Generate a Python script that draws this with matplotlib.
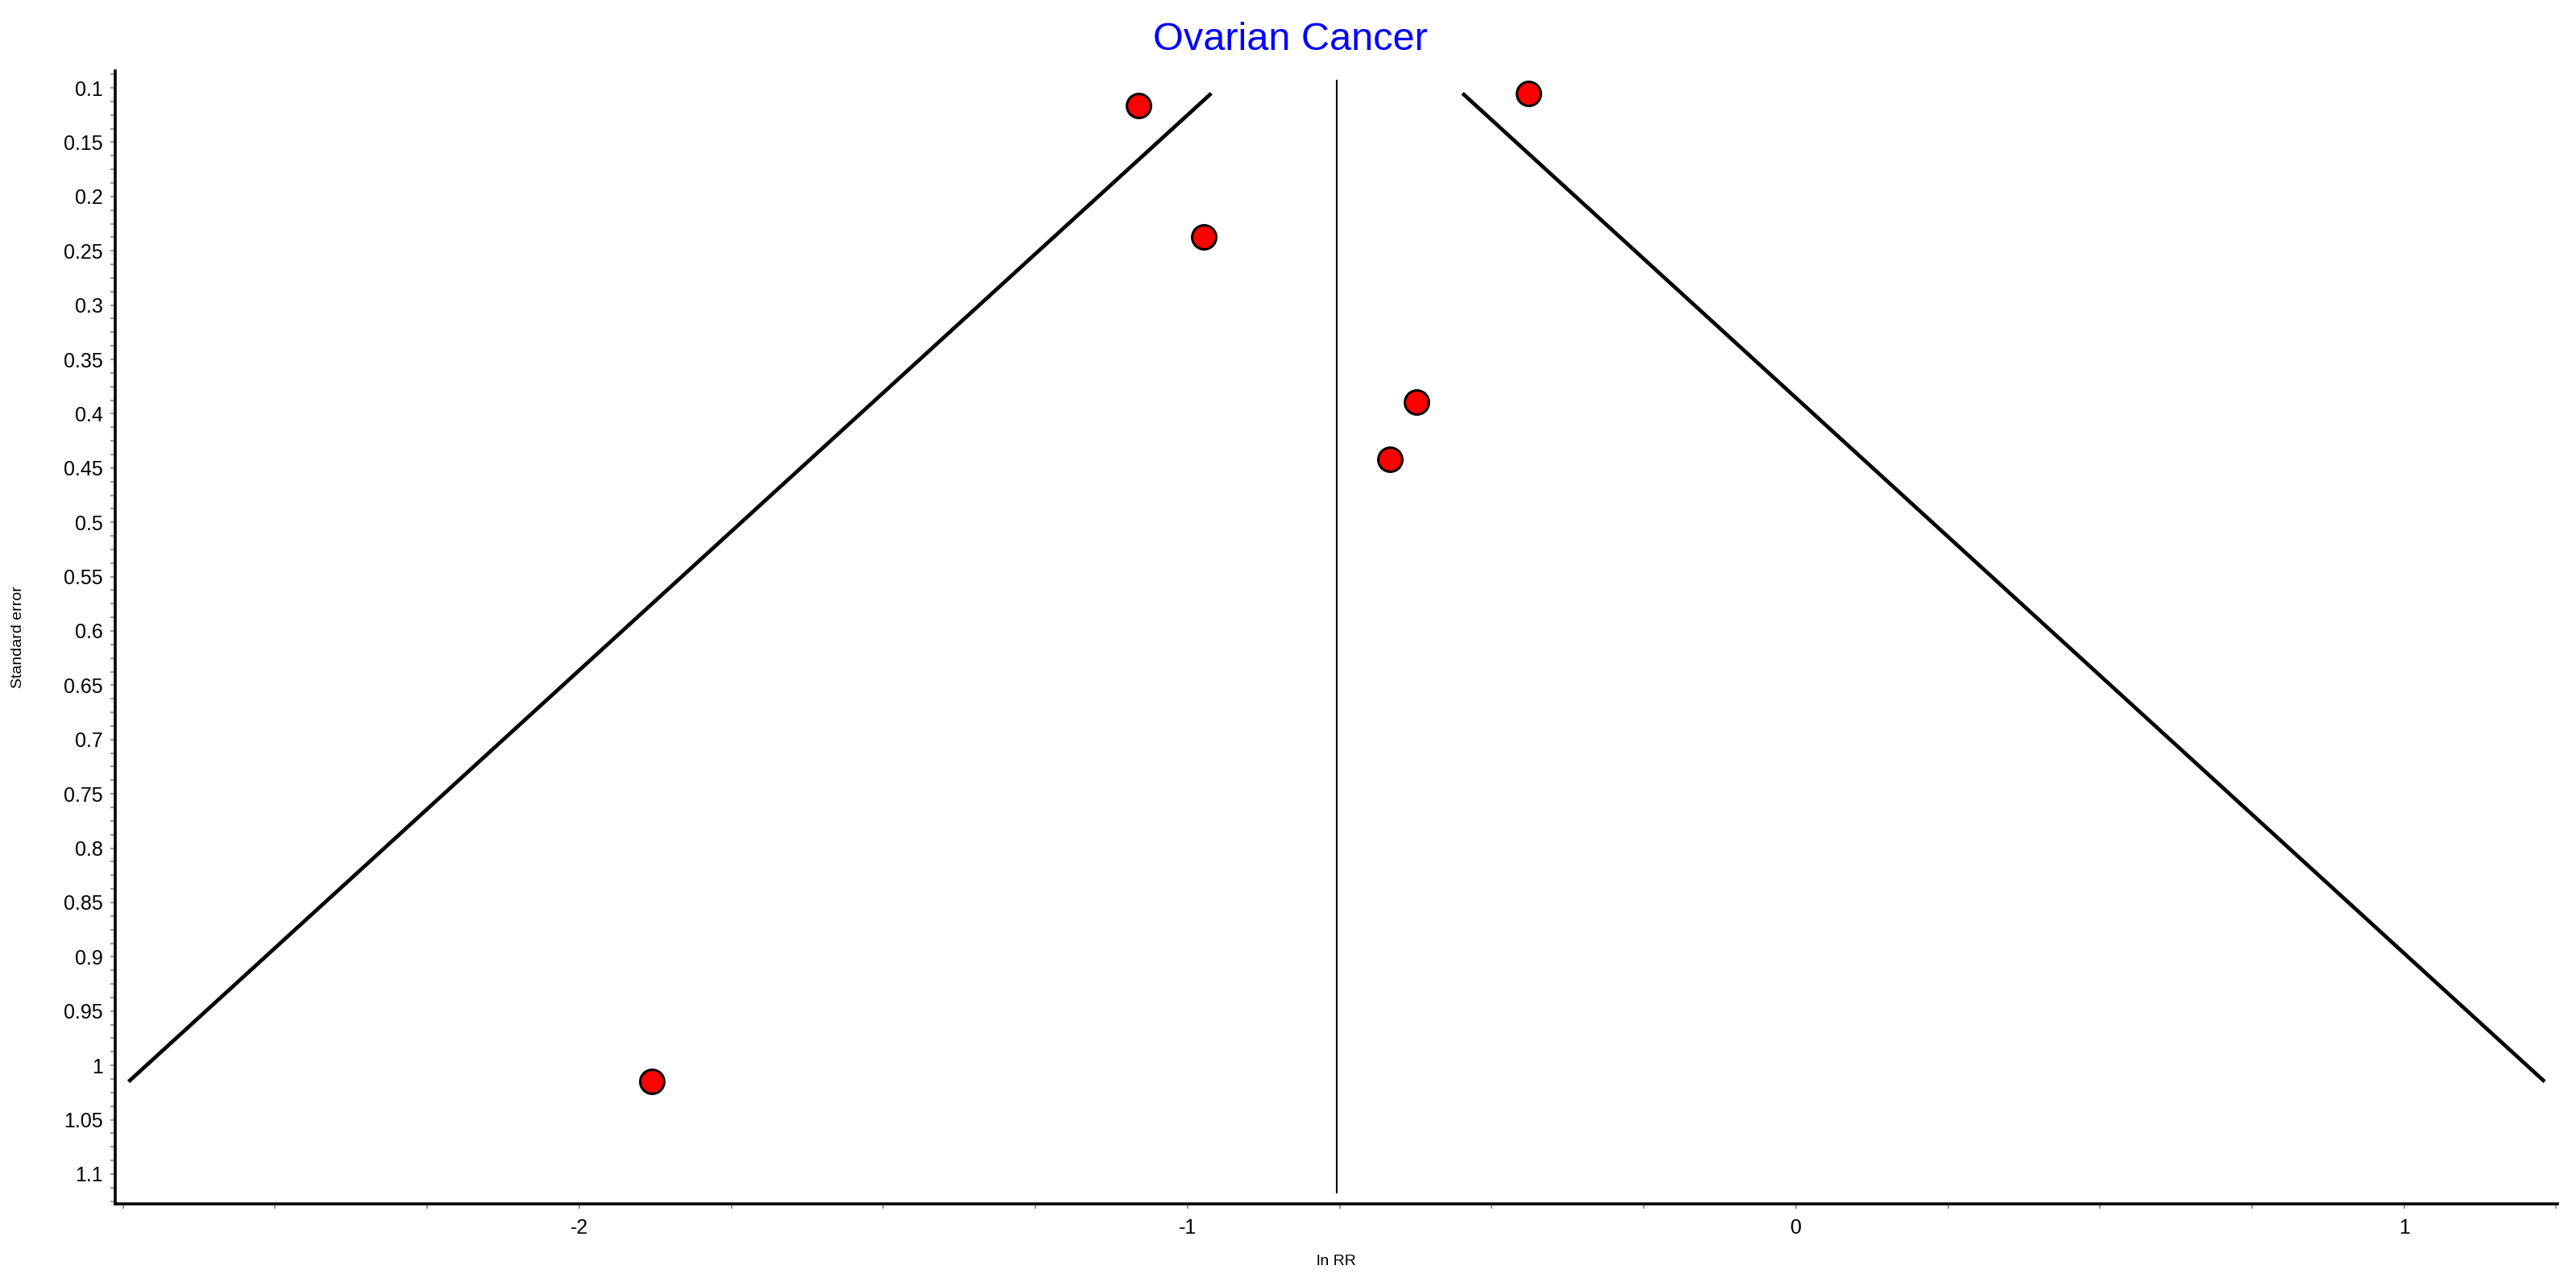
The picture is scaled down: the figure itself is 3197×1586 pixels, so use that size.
import numpy as np
import matplotlib
matplotlib.use("Agg")
import matplotlib.pyplot as plt
from matplotlib.ticker import MultipleLocator, FormatStrFormatter

plt.rcParams['font.family'] = ['Liberation Sans', 'DejaVu Sans']

# studies
ln_rr = [-1.081, -0.973, -0.440, -0.624, -0.668, -1.881]
std_err = [0.116, 0.237, 0.105, 0.389, 0.442, 1.015]

# pooled estimate and funnel limits
pooled = -0.755
pooled_se = [0.093, 1.117]
funnel_se = [0.105, 1.015]
funnel_left = [-0.961, -2.741]
funnel_right = [-0.548, 1.231]

title = "Ovarian Cancer"
xlabel = "ln RR"
ylabel = "Standard error"

fig = plt.figure(figsize=(31.97, 15.86), dpi=100)
ax = fig.add_axes([0.0447, 0.058, 0.9928 - 0.0447, 0.9445 - 0.058])

ax.plot(funnel_left, funnel_se, color='black', lw=3.4, solid_capstyle='butt', zorder=2)
ax.plot(funnel_right, funnel_se, color='black', lw=3.4, solid_capstyle='butt', zorder=2)
ax.plot([pooled, pooled], pooled_se, color='black', lw=1.5, zorder=2)

ax.plot(ln_rr, std_err, 'o', color='red', markersize=21.5, markeredgecolor='black',
        markeredgewidth=2.2, zorder=3)

ax.set_xlim(-2.763, 1.252)
ax.set_ylim(1.1275, 0.0844)

ax.spines['top'].set_visible(False)
ax.spines['right'].set_visible(False)
ax.spines['left'].set_linewidth(2.6)
ax.spines['bottom'].set_linewidth(2.6)

ax.xaxis.set_major_locator(MultipleLocator(1))
ax.xaxis.set_minor_locator(MultipleLocator(0.25))
ax.yaxis.set_major_locator(MultipleLocator(0.05))
ax.yaxis.set_minor_locator(MultipleLocator(0.0125))
ax.xaxis.set_major_formatter(FormatStrFormatter('%g'))
ax.yaxis.set_major_formatter(FormatStrFormatter('%g'))

ax.tick_params(which='both', color='#999999', width=1.5, length=4, labelsize=18, pad=7)
ax.tick_params(axis='x', which='both', pad=9)

ax.set_xlabel(xlabel, fontsize=14)
ax.set_ylabel(ylabel, fontsize=14)
ax.xaxis.set_label_coords(0.5, -0.045)
ax.yaxis.set_label_coords(-0.037, 0.5)

fig.text(0.501, 0.969, title, color='blue', fontsize=35, ha='center', va='center')

fig.savefig("out.png", dpi=100)
